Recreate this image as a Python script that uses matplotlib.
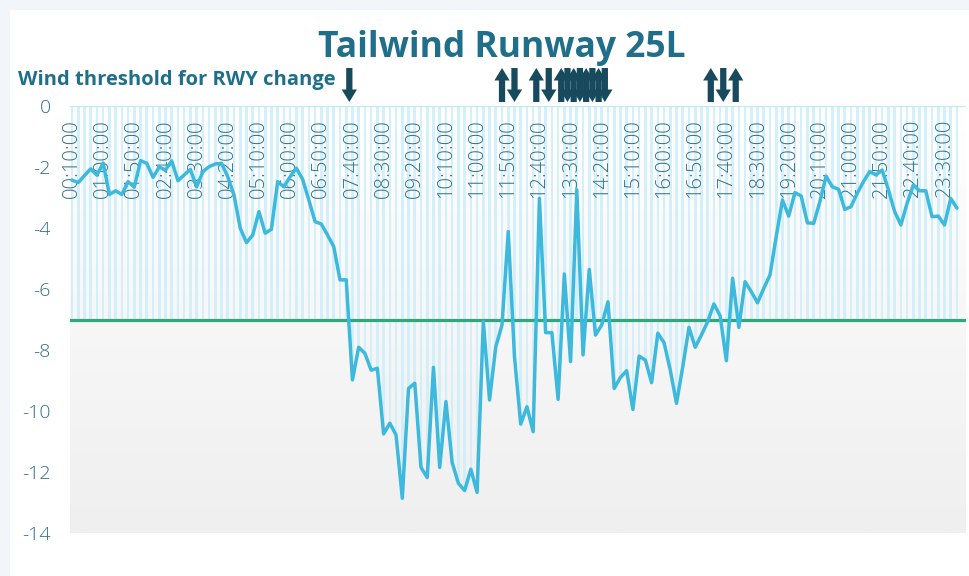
import numpy as np
import matplotlib
matplotlib.use("Agg")
import matplotlib.pyplot as plt
from matplotlib.patches import Rectangle
from matplotlib.colors import LinearSegmentedColormap
from matplotlib.transforms import blended_transform_factory

# ---------------- data ----------------
start_time = "00:10"      # first sample
step_minutes = 10         # sample spacing
tailwind = [
    -2.43, -2.51, -2.28, -2.06, -2.27, -1.87, -2.90, -2.78, -2.90, -2.48,
    -2.66, -1.79, -1.88, -2.34, -2.00, -2.10, -1.80, -2.45, -2.26, -2.08,
    -2.65, -2.15, -1.99, -1.90, -1.88, -2.32, -2.92, -4.01, -4.48, -4.23,
    -3.46, -4.17, -4.04, -2.48, -2.65, -2.32, -2.04, -2.40, -3.08, -3.79,
    -3.87, -4.23, -4.61, -5.70, -5.70, -8.98, -7.91, -8.11, -8.66, -8.60,
    -10.75, -10.40, -10.79, -12.86, -9.26, -9.09, -11.85, -12.18, -8.57, -11.85,
    -9.69, -11.69, -12.37, -12.61, -11.91, -12.67, -7.07, -9.64, -7.89, -7.18,
    -4.12, -8.22, -10.43, -9.86, -10.68, -3.03, -7.43, -7.43, -9.62, -5.51,
    -8.38, -2.75, -8.16, -5.36, -7.51, -7.18, -6.42, -9.26, -8.90, -8.68,
    -9.95, -8.20, -8.33, -9.07, -7.45, -7.76, -8.66, -9.75, -8.55, -7.26,
    -7.91, -7.51, -7.07, -6.49, -6.88, -8.35, -5.65, -7.26, -5.76, -6.09,
    -6.45, -5.98, -5.54, -4.28, -3.08, -3.61, -2.84, -2.95, -3.83, -3.85,
    -3.14, -2.30, -2.65, -2.73, -3.39, -3.30, -2.86, -2.48, -2.15, -2.26,
    -2.10, -2.75, -3.46, -3.90, -3.19, -2.59, -2.78, -2.78, -3.63, -3.61,
    -3.90, -3.03, -3.35,
]
threshold = -7
y_ticks = [0, -2, -4, -6, -8, -10, -12, -14]
x_tick_labels = [
    "00:10:00", "01:00:00", "01:50:00", "02:40:00", "03:30:00", "04:20:00",
    "05:10:00", "06:00:00", "06:50:00", "07:40:00", "08:30:00", "09:20:00",
    "10:10:00", "11:00:00", "11:50:00", "12:40:00", "13:30:00", "14:20:00",
    "15:10:00", "16:00:00", "16:50:00", "17:40:00", "18:30:00", "19:20:00",
    "20:10:00", "21:00:00", "21:50:00", "22:40:00", "23:30:00",
]
# runway change events (time, direction)
arrow_times = ["07:35", "11:40", "12:00", "12:35", "12:55",
               "13:15", "13:25", "13:35", "13:45", "13:55", "14:05", "14:15", "14:25",
               "17:15", "17:35", "17:55"]
arrow_dirs = ["down", "up", "down", "up", "down",
              "up", "down", "up", "down", "up", "down", "up", "down",
              "up", "down", "up"]

# ---------------- helpers ----------------
def minutes(t):
    h, m = t.split(":")[:2]
    return int(h) * 60 + int(m)

t0 = minutes(start_time)
def to_index(t):
    return (minutes(t) - t0) / step_minutes

x = np.arange(len(tailwind))
vals = np.array(tailwind)

TEAL = "#1f6e8a"
TICK = "#2d6f86"
ARROW = "#164a5c"
FONT = ["Open Sans", "DejaVu Sans"]
plt.rcParams["font.family"] = FONT

fig = plt.figure(figsize=(9.69, 5.76), dpi=100)
fig.patch.set_facecolor("#f2f5f9")
fig.patches.append(Rectangle((10 / 969, 0), 1, (576 - 10) / 576,
                             transform=fig.transFigure, facecolor="white",
                             edgecolor="none", zorder=-5))

ax = fig.add_axes([70 / 969, 43 / 576, 896 / 969, 427 / 576])
ax.set_zorder(1)
xmin, xmax = -0.32, 143.45
ax.set_xlim(xmin, xmax)
ax.set_ylim(-14, 0)

# background gradient
cmap = LinearSegmentedColormap.from_list("bg", ["#ffffff", "#efefef"])
ax.imshow(np.linspace(0, 1, 256).reshape(-1, 1), extent=[xmin, xmax, -14, 0],
          aspect="auto", cmap=cmap, origin="upper", zorder=0)

# thin columns
ax.bar(x, np.minimum(vals, threshold), width=0.42, color="#cdeefa",
       alpha=0.85, zorder=1, linewidth=0)
ax.axhline(0, color="#bfe8f6", lw=1.6, zorder=2)

# x tick labels inside, top
trans = blended_transform_factory(ax.transData, ax.transAxes)
tick_pos = x[::5]
for pos, lab in zip(tick_pos, x_tick_labels):
    ax.text(pos, 1 - 13 / 427, lab, rotation=90, ha="center", va="top",
            transform=trans, fontsize=14.5, fontweight="light", color=TICK, zorder=3)

ax.axhline(threshold, color="#33a67c", lw=2.3, zorder=4)
ax.plot(x, vals, color="#3cb9dd", lw=2.5, zorder=5, solid_joinstyle="round",
        solid_capstyle="round")

ax.set_xticks([])
ax.set_yticks(y_ticks)
ax.set_yticklabels([str(v) for v in y_ticks])
ax.tick_params(axis="y", length=0, pad=14, labelsize=14, labelcolor=TICK)
for lab in ax.get_yticklabels():
    lab.set_fontweight("light")
for s in ax.spines.values():
    s.set_visible(False)

# arrows
for t, d in zip(arrow_times, arrow_dirs):
    xi = to_index(t)
    top, bot = 576 - 68, 576 - 102
    if d == "down":
        start, end = top, bot
    else:
        start, end = bot, top
    ax.annotate("", xy=(xi, end), xytext=(xi, start),
                xycoords=("data", "figure pixels"),
                textcoords=("data", "figure pixels"),
                annotation_clip=False,
                arrowprops=dict(arrowstyle="simple,head_length=0.9,head_width=1.1,tail_width=0.45",
                                mutation_scale=10, color=ARROW, shrinkA=0, shrinkB=0, lw=0))

fig.text(502 / 969, 1 - 48 / 576, "Tailwind Runway 25L", ha="center", va="center",
         fontsize=25.5, fontweight="bold", color=TEAL)
fig.text(18 / 969, 1 - 80 / 576, "Wind threshold for RWY change", ha="left", va="center",
         fontsize=14.5, fontweight="bold", color=TEAL)

fig.savefig("out.png", dpi=100, facecolor=fig.get_facecolor())
